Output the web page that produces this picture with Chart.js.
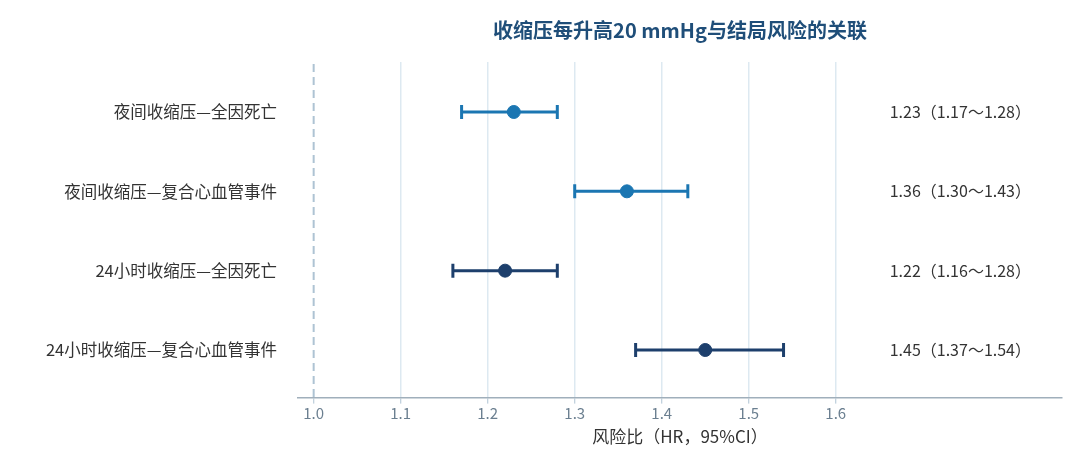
<!DOCTYPE html>
<html>
<head>
<meta charset="utf-8">
<script src="https://cdn.jsdelivr.net/npm/chart.js@4"></script>
<style>
  html, body { margin: 0; padding: 0; background: #fff; }
  #wrap { width: 1080px; height: 473px; position: relative; }
</style>
</head>
<body>
<div id="wrap"><canvas id="forest"></canvas></div>
<script>
const labels = ['夜间收缩压—全因死亡', '夜间收缩压—复合心血管事件', '24小时收缩压—全因死亡', '24小时收缩压—复合心血管事件'];
const hr = [1.23, 1.36, 1.22, 1.45];
const lower = [1.17, 1.30, 1.16, 1.37];
const upper = [1.28, 1.43, 1.28, 1.54];
const xTicks = [1.0, 1.1, 1.2, 1.3, 1.4, 1.5, 1.6];
const colors = ['#1b76b2', '#1b76b2', '#1d3f6c', '#1d3f6c'];

const FONT = '"Noto Sans CJK SC", "Noto Sans", sans-serif';

// whiskers + reference line + right-hand text
const forestPlugin = {
    id: 'forest',
    beforeDatasetsDraw(chart) {
        const { ctx, chartArea, scales: { x, y } } = chart;
        ctx.save();
        // dashed line at HR = 1
        const x1 = x.getPixelForValue(1.0);
        ctx.strokeStyle = '#aec3d3';
        ctx.lineWidth = 2;
        ctx.setLineDash([8, 5]);
        ctx.beginPath();
        ctx.moveTo(x1, chartArea.top + 2);
        ctx.lineTo(x1, chartArea.bottom);
        ctx.stroke();
        ctx.setLineDash([]);

        hr.forEach((v, i) => {
            const yp = y.getPixelForValue(i);
            const xl = x.getPixelForValue(lower[i]);
            const xh = x.getPixelForValue(upper[i]);
            ctx.strokeStyle = colors[i];
            ctx.lineWidth = 3;
            ctx.beginPath();
            ctx.moveTo(xl, yp);
            ctx.lineTo(xh, yp);
            ctx.moveTo(xl, yp - 7);
            ctx.lineTo(xl, yp + 7);
            ctx.moveTo(xh, yp - 7);
            ctx.lineTo(xh, yp + 7);
            ctx.stroke();
        });
        ctx.restore();
    },
    afterDatasetsDraw(chart) {
        const { ctx, scales: { x, y } } = chart;
        ctx.save();
        ctx.font = '16px ' + FONT;
        ctx.fillStyle = '#333333';
        ctx.textAlign = 'left';
        ctx.textBaseline = 'middle';
        hr.forEach((v, i) => {
            const txt = v.toFixed(2) + '（' + lower[i].toFixed(2) + '～' + upper[i].toFixed(2) + '）';
            ctx.fillText(txt, x.getPixelForValue(1.662), y.getPixelForValue(i));
        });
        ctx.restore();
    }
};

new Chart(document.getElementById('forest'), {
    type: 'scatter',
    data: {
        datasets: [{
            data: hr.map((v, i) => ({ x: v, y: i })),
            pointBackgroundColor: colors,
            pointBorderColor: colors,
            pointRadius: 6.5,
            pointHoverRadius: 6.5,
            showLine: false
        }]
    },
    options: {
        responsive: true,
        maintainAspectRatio: false,
        animation: false,
        layout: { padding: { left: 0, right: 18, top: 0, bottom: 26 } },
        plugins: {
            legend: { display: false },
            tooltip: { enabled: false },
            title: {
                display: true,
                fullSize: false,
                text: '收缩压每升高20 mmHg与结局风险的关联',
                color: '#1f4e79',
                font: { family: FONT, size: 20, weight: 'bold' },
                padding: { top: 18, bottom: 20 }
            }
        },
        scales: {
            x: {
                type: 'linear',
                min: 0.982,
                max: 1.86,
                afterBuildTicks: s => { s.ticks = xTicks.map(v => ({ value: v })); },
                ticks: {
                    color: '#6b7f90',
                    font: { family: FONT, size: 15 },
                    padding: 1,
                    callback: v => Number(v).toFixed(1)
                },
                grid: {
                    color: ctx => (ctx.tick && ctx.tick.value === 1.0) ? 'rgba(0,0,0,0)' : '#dde9f1',
                    lineWidth: 1.5,
                    drawTicks: true,
                    tickLength: 6,
                    tickColor: '#aec3d3',
                    tickWidth: 1
                },
                border: { display: true, color: '#a0afbb', width: 1.5 },
                title: {
                    display: true,
                    text: '风险比（HR，95%CI）',
                    color: '#333333',
                    font: { family: FONT, size: 17 },
                    padding: { top: 3, bottom: 0 }
                }
            },
            y: {
                type: 'linear',
                reverse: true,
                min: -0.63,
                max: 3.6,
                afterBuildTicks: s => { s.ticks = labels.map((l, i) => ({ value: i })); },
                afterFit: s => { s.width = 298; },
                ticks: {
                    color: '#333333',
                    font: { family: FONT, size: 16.5 },
                    padding: 21,
                    callback: v => labels[v]
                },
                grid: { display: false, drawTicks: false },
                border: { display: false }
            }
        }
    },
    plugins: [forestPlugin]
});
</script>
</body>
</html>
